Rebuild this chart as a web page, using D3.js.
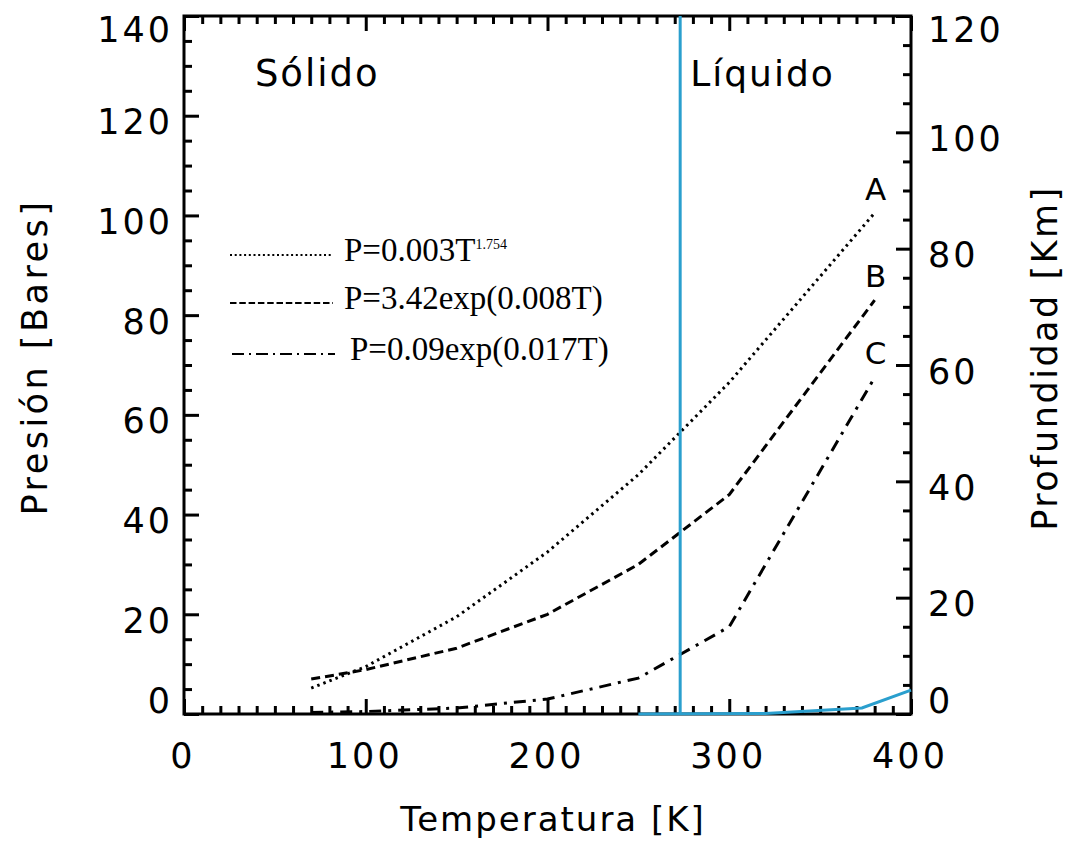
<!DOCTYPE html>
<html>
<head>
<meta charset="utf-8">
<script src="https://cdn.jsdelivr.net/npm/d3@7"></script>
<style>
  body { margin: 0; background: #fff; }
  svg text { fill: #000; }
</style>
</head>
<body>
<div id="chart"></div>
<script>
// data
const temps = [70, 100, 150, 200, 250, 300, 380];
const seriesA = [5.2, 9.5, 19.5, 32.5, 48, 66.5, 100.5];
const seriesB = [7, 8.9, 13.2, 20, 30, 44, 83];
const seriesC = [0.3, 0.5, 1.2, 3, 7.2, 17.5, 67.5];
const waterTemps = [250, 320, 373, 400];
const waterPressure = [0, 0.1, 1.2, 4.8];
const meltingT = 273;
const curveLabels = ["A", "B", "C"];
const legendLabels = ["P=0.003T", "P=3.42exp(0.008T)", "P=0.09exp(0.017T)"];
const xTicks = [0, 100, 200, 300, 400];
const yLeftTicks = [0, 20, 40, 60, 80, 100, 120, 140];
const yRightTicks = [0, 20, 40, 60, 80, 100, 120];

const W = 1072, H = 841;
const plotLeft = 184, plotRight = 911, plotTop = 16, plotBottom = 714;
const FONT = "'DejaVu Sans', sans-serif";
const SERIF = "'Liberation Serif', 'Times New Roman', serif";
const BLUE = "#2a9fce";

const svg = d3.select("#chart").append("svg")
  .attr("width", W)
  .attr("height", H);

const x = d3.scaleLinear().domain([0, 400]).range([plotLeft, plotRight]);
const yL = d3.scaleLinear().domain([0, 140]).range([plotBottom, plotTop]);
const yR = d3.scaleLinear().domain([0, 120]).range([plotBottom, plotTop]);

const line = d3.line().x((d) => x(d[0])).y((d) => yL(d[1]));

const plot = svg.append("g");

// curves
const curves = [
  { vals: seriesA, dash: "2.5,4", legendDash: "2,2.7" },
  { vals: seriesB, dash: "9,5", legendDash: "6.5,2.8" },
  { vals: seriesC, dash: "12,7,3,7", legendDash: "12,5,2,5" },
];
curves.forEach((c) => {
  plot.append("path")
    .datum(temps.map((t, i) => [t, c.vals[i]]))
    .attr("d", line)
    .attr("fill", "none")
    .attr("stroke", "#000")
    .attr("stroke-width", 3)
    .attr("stroke-dasharray", c.dash);
});

// axes: ticks drawn inward on all four sides
function tickAxis(axis, scale, ticks, minorStep, lenMajor, lenMinor) {
  const minor = d3.range(scale.domain()[0], scale.domain()[1] + 0.001, minorStep)
    .filter((v) => !ticks.includes(v));
  const g = svg.append("g").attr("class", "axis");
  g.append("g").call(axis(scale).tickValues(minor).tickSize(lenMinor).tickFormat(""));
  g.append("g").call(axis(scale).tickValues(ticks).tickSize(lenMajor).tickFormat(""));
  g.selectAll(".domain").remove();
  g.selectAll("line").attr("stroke", "#000").attr("stroke-width", 3);
  return g;
}

tickAxis(d3.axisTop, x, xTicks, 10, 15, 8).attr("transform", `translate(0,${plotBottom})`);
tickAxis(d3.axisBottom, x, xTicks, 10, 15, 8).attr("transform", `translate(0,${plotTop})`);
tickAxis(d3.axisRight, yL, yLeftTicks, 5, 15, 8).attr("transform", `translate(${plotLeft},0)`);
tickAxis(d3.axisLeft, yR, yRightTicks, 5, 15, 8).attr("transform", `translate(${plotRight},0)`);

// frame
svg.append("path")
  .attr("d", `M${plotLeft},${plotTop}H${plotRight}V${plotBottom}H${plotLeft}Z`)
  .attr("fill", "none")
  .attr("stroke", "#000")
  .attr("stroke-width", 3);

// blue lines on top
svg.append("line")
  .attr("x1", x(meltingT)).attr("x2", x(meltingT))
  .attr("y1", yL(140)).attr("y2", yL(0))
  .attr("stroke", BLUE)
  .attr("stroke-width", 3);
svg.append("path")
  .datum(waterTemps.map((t, i) => [t, waterPressure[i]]))
  .attr("d", line)
  .attr("fill", "none")
  .attr("stroke", BLUE)
  .attr("stroke-width", 3);

// tick labels (end labels are pulled inside the frame like the original)
const labelY = (py) => Math.max(29, Math.min(700, py + 6)) + 12.5;
const tickFont = `35px ${FONT}`;
svg.selectAll(".xl").data(xTicks).enter().append("text")
  .attr("x", (d) => x(d) - 1)
  .attr("y", plotBottom + 54)
  .attr("text-anchor", "middle")
  .style("font", tickFont)
  .style("letter-spacing", "3px")
  .text((d) => d);
svg.selectAll(".yl").data(yLeftTicks).enter().append("text")
  .attr("x", plotLeft - 11)
  .attr("y", (d) => labelY(yL(d)))
  .attr("text-anchor", "end")
  .style("font", tickFont)
  .style("letter-spacing", "3px")
  .text((d) => d);
svg.selectAll(".yr").data(yRightTicks).enter().append("text")
  .attr("x", plotRight + 17)
  .attr("y", (d) => labelY(yR(d)))
  .attr("text-anchor", "start")
  .style("font", tickFont)
  .style("letter-spacing", "3px")
  .text((d) => d);

// axis titles
svg.append("text")
  .attr("x", 553)
  .attr("y", 831)
  .attr("text-anchor", "middle")
  .style("font", `34px ${FONT}`)
  .style("letter-spacing", "2px")
  .text("Temperatura [K]");
svg.append("text")
  .attr("transform", "translate(47,357) rotate(-90)")
  .attr("text-anchor", "middle")
  .style("font", `35px ${FONT}`)
  .style("letter-spacing", "3.5px")
  .text("Presión [Bares]");
svg.append("text")
  .attr("transform", "translate(1057,358) rotate(-90)")
  .attr("text-anchor", "middle")
  .style("font", `35px ${FONT}`)
  .style("letter-spacing", "2.5px")
  .text("Profundidad [Km]");

// region labels
svg.append("text").attr("x", x(39)).attr("y", 86)
  .style("font", `37px ${FONT}`).style("letter-spacing", "2px").text("Sólido");
svg.append("text").attr("x", x(278.5)).attr("y", 86)
  .style("font", `36px ${FONT}`).style("letter-spacing", "2px").text("Líquido");

// curve end labels
const ends = [seriesA, seriesB, seriesC];
curveLabels.forEach((lab, i) => {
  svg.append("text")
    .attr("x", x(temps[temps.length - 1]) + 1)
    .attr("y", yL(ends[i][ends[i].length - 1]) - 13)
    .attr("text-anchor", "middle")
    .style("font", `31px ${FONT}`)
    .text(lab);
});

// legend
const legendY = [255, 303, 354];
const legendX = [344, 344, 350];
curves.forEach((c, i) => {
  svg.append("line")
    .attr("x1", i === 2 ? 232 : 230).attr("x2", i === 2 ? 335 : 333)
    .attr("y1", legendY[i]).attr("y2", legendY[i])
    .attr("stroke", "#000")
    .attr("stroke-width", 2)
    .attr("stroke-dasharray", c.legendDash);
  const t = svg.append("text")
    .attr("x", legendX[i])
    .attr("y", legendY[i] + 6)
    .style("font", `33px ${SERIF}`)
    .text(legendLabels[i]);
  if (i === 0) {
    t.append("tspan")
      .attr("dy", -12)
      .style("font-size", "14px")
      .text("1.754");
  }
});
</script>
</body>
</html>
